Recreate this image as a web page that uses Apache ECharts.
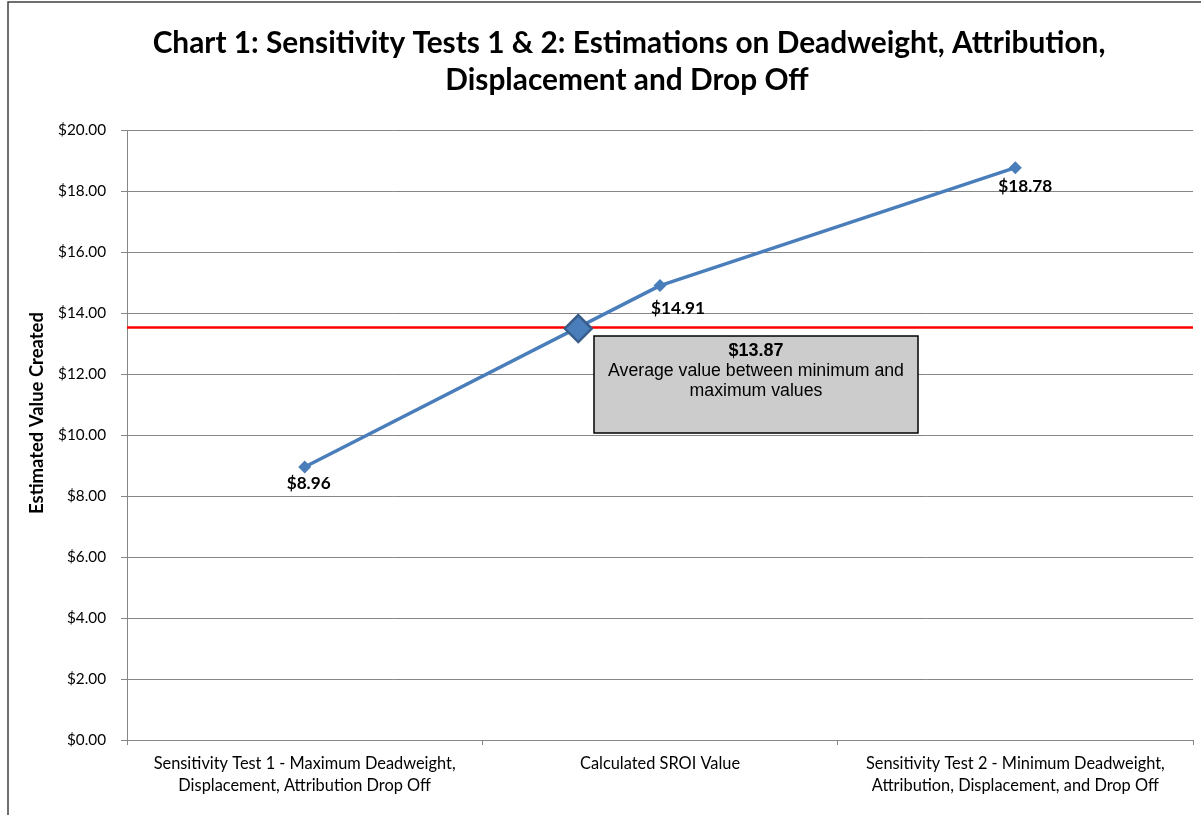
<!DOCTYPE html>
<html>
<head>
<meta charset="utf-8">
<script src="https://cdn.jsdelivr.net/npm/echarts@6/dist/echarts.min.js"></script>
<style>
html,body{margin:0;padding:0;background:#fff;}
#chart{width:1201px;height:815px;}
</style>
</head>
<body>
<div id="chart"></div>
<script>
// ---- data ----
const titleLines = ['Chart 1: Sensitivity Tests 1 & 2: Estimations on Deadweight, Attribution,', 'Displacement and Drop Off'];
const categories = [
  'Sensitivity Test 1 - Maximum Deadweight,\nDisplacement, Attribution Drop Off',
  'Calculated SROI Value',
  'Sensitivity Test 2 - Minimum Deadweight,\nAttribution, Displacement, and Drop Off'
];
const values = [8.96, 14.91, 18.78];
const yAxisName = 'Estimated Value Created';
const yMin = 0, yMax = 20, yInterval = 2;
// highlighted point as drawn (x in category-index units, y in $)
const highlightPoint = [0.77, 13.5];
// red reference line as drawn
const referenceLineValue = 13.53;
const averageLabel = '$13.87';
const averageText = ['Average value between minimum and', 'maximum values'];

// ---- styles ----
const labelOffsets = [[4, 17], [18, 23], [10, 19]];
const FONT = 'Lato';
const ARIAL = '"Liberation Sans", Arial';
function fitSize(text, target, weight, family) {
  const c = document.createElement('canvas').getContext('2d');
  c.font = weight + ' 100px ' + family;
  return 100 * target / c.measureText(text).width;
}
const titleSize = fitSize(titleLines[0], 953, 'bold', FONT);
const catSize = fitSize('Sensitivity Test 1 - Maximum Deadweight,', 302, 'normal', FONT);
const ySize = fitSize('$14.00', 48, 'normal', FONT);
const yNameSize = fitSize(yAxisName, 202, 'bold', FONT);
const dlSize = fitSize('$14.91', 54, 'bold', FONT);
const avgBoldSize = fitSize(averageLabel, 55, 'bold', ARIAL);
const avgSize = fitSize(averageText[0], 296, 'normal', ARIAL);

const lineColor = '#4A7EBB';
const gridColor = '#868686';

const chart = echarts.init(document.getElementById('chart'), null, {renderer: 'canvas'});
chart.setOption({
  animation: false,
  backgroundColor: '#ffffff',
  grid: {left: 127, right: 8, top: 130.5, bottom: 75, containLabel: false},
  xAxis: [{
    type: 'category',
    data: categories,
    boundaryGap: true,
    axisLine: {show: true, onZero: false, lineStyle: {color: gridColor, width: 1}},
    axisTick: {show: true, length: 5, lineStyle: {color: gridColor}},
    axisLabel: {interval: 0, margin: 12, fontFamily: FONT, fontSize: catSize, color: '#000', lineHeight: 22.5, align: 'center'},
    splitLine: {show: false}
  }, {
    type: 'value', min: -0.5, max: 2.5, show: false,
    axisLine: {show: false, onZero: false}, splitLine: {show: false}
  }],
  yAxis: {
    type: 'value', min: yMin, max: yMax, interval: yInterval,
    axisLine: {show: true, onZero: false, lineStyle: {color: gridColor, width: 1}},
    axisTick: {show: true, length: 6, lineStyle: {color: gridColor}},
    axisLabel: {margin: 21, fontFamily: FONT, fontSize: ySize, color: '#000',
      formatter: v => '$' + v.toFixed(2)},
    splitLine: {show: true, lineStyle: {color: gridColor, width: 1}}
  },
  series: [{
    type: 'line',
    data: values.map((v, i) => ({value: v, label: {offset: labelOffsets[i]}})),
    symbol: 'diamond', symbolSize: 13,
    lineStyle: {color: lineColor, width: 3.5},
    itemStyle: {color: lineColor},
    label: {show: true, position: 'inside', align: 'center', verticalAlign: 'middle',
      fontFamily: FONT, fontWeight: 'bold', fontSize: dlSize, color: '#000',
      formatter: p => '$' + p.value.toFixed(2)},
    markLine: {
      silent: true, symbol: ['none', 'none'], label: {show: false},
      lineStyle: {color: '#FF0000', width: 2.5, type: 'solid'},
      data: [{yAxis: referenceLineValue}]
    },
    z: 3
  }, {
    type: 'scatter',
    xAxisIndex: 1,
    data: [highlightPoint],
    symbol: 'diamond', symbolSize: 27,
    itemStyle: {color: lineColor, opacity: 1, borderColor: '#385D8A', borderWidth: 2.5},
    z: 5
  }],
  graphic: [
    {type: 'rect', shape: {x: 8, y: 2, width: 1250, height: 900}, style: {fill: 'none', stroke: '#404040', lineWidth: 1.5}, silent: true},
    {type: 'text', x: 629, y: 43, style: {text: titleLines[0], font: 'bold ' + titleSize + 'px ' + FONT, fill: '#000', textAlign: 'center', textVerticalAlign: 'middle'}},
    {type: 'text', x: 627, y: 80, style: {text: titleLines[1], font: 'bold ' + titleSize + 'px ' + FONT, fill: '#000', textAlign: 'center', textVerticalAlign: 'middle'}},
    {type: 'text', x: 37, y: 413, rotation: Math.PI / 2, style: {text: yAxisName, font: 'bold ' + yNameSize + 'px ' + FONT, fill: '#000', textAlign: 'center', textVerticalAlign: 'middle'}},
    {type: 'rect', shape: {x: 594, y: 336, width: 324, height: 97}, style: {fill: '#CCCCCC', stroke: '#000', lineWidth: 1.5}, z: 10},
    {type: 'text', x: 756, y: 351, z: 11, style: {text: averageLabel, font: 'bold ' + avgBoldSize + 'px ' + ARIAL, fill: '#000', textAlign: 'center', textVerticalAlign: 'middle'}},
    {type: 'text', x: 756, y: 371, z: 11, style: {text: averageText[0], font: avgSize + 'px ' + ARIAL, fill: '#000', textAlign: 'center', textVerticalAlign: 'middle'}},
    {type: 'text', x: 756, y: 391, z: 11, style: {text: averageText[1], font: avgSize + 'px ' + ARIAL, fill: '#000', textAlign: 'center', textVerticalAlign: 'middle'}}
  ]
});
</script>
</body>
</html>
